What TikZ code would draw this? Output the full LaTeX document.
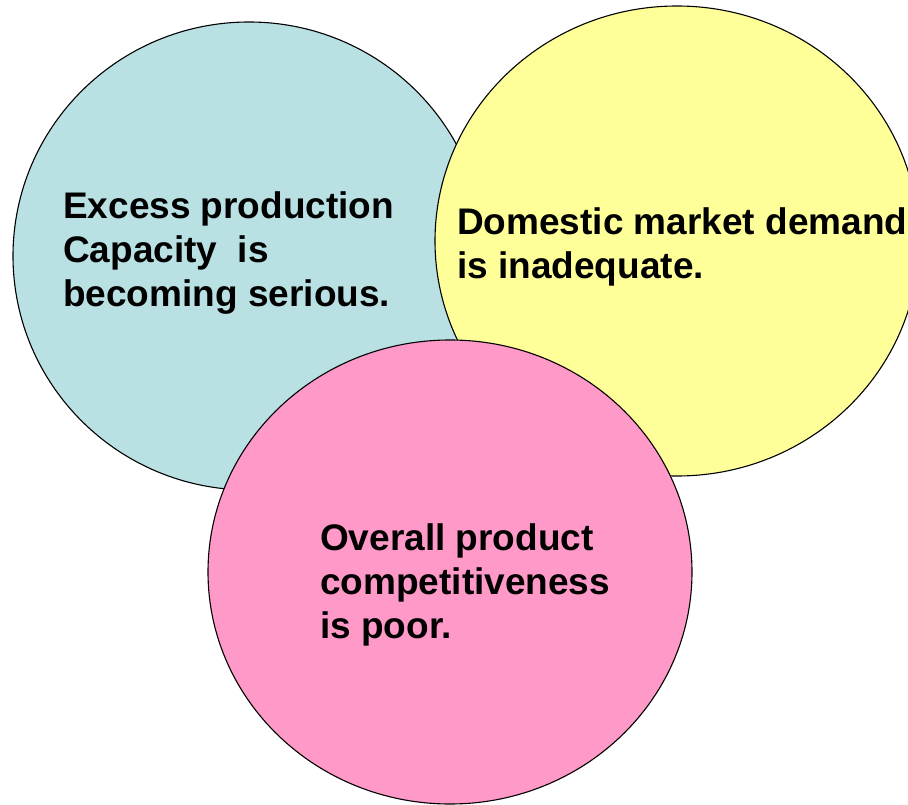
\documentclass[tikz,border=0pt]{standalone}
\usepackage{fontspec}
\setmainfont{Liberation Sans}
\definecolor{cblue}{HTML}{B9E0E2}
\definecolor{cyellow}{HTML}{FFFF99}
\definecolor{cpink}{HTML}{FF99C8}
\begin{document}
\begin{tikzpicture}[x=1pt,y=-1pt,
  bubble/.style={draw=black,line width=1.1pt},
  label/.style={anchor=base west,inner sep=0pt,align=left,
    font={\fontsize{37pt}{44pt}\selectfont\bfseries}}]
\useasboundingbox (0,0) rectangle (908,805);
\clip (0,0) rectangle (908,805);
\fill[white] (0,0) rectangle (908,805);
\draw[bubble,fill=cblue] (249,256) ellipse [x radius=236pt, y radius=234pt];
\draw[bubble,fill=cyellow] (677,241) ellipse [x radius=242pt, y radius=235pt];
\draw[bubble,fill=cpink] (450,572) ellipse [x radius=242pt, y radius=232pt];
\node[label] (t1) at (63,306) {Excess production\\Capacity\ \ is\\becoming serious.};
\node[label] (t2) at (457,279) {Domestic market demand\\is inadequate.};
\node[label] (t3) at (320,638) {Overall product\\competitiveness\\is poor.};
\end{tikzpicture}
\end{document}
